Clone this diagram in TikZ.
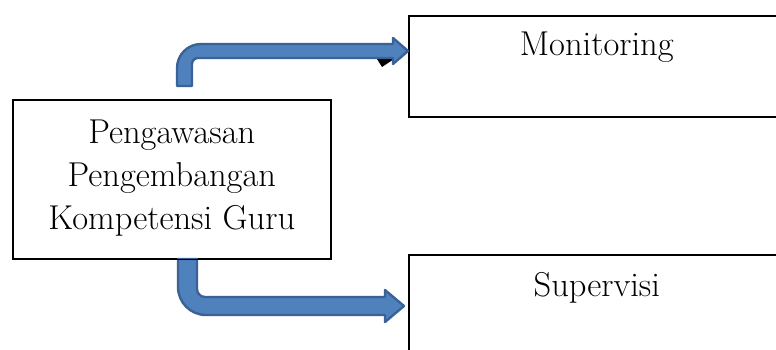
\documentclass[tikz,border=0pt]{standalone}
\usetikzlibrary{calc}
\definecolor{arrfill}{HTML}{4F81BD}
\definecolor{arrline}{HTML}{3A6296}
\tikzset{
  box/.style={draw=black, line width=1.6pt, fill=white, inner sep=0pt},
  lbl/.style={font=\fontsize{34.5}{43}\selectfont, align=center, inner sep=0pt},
  blockarrow/.style={fill=arrfill, draw=arrline, line width=2.4pt, line join=round},
}
\begin{document}
\begin{tikzpicture}[x=1pt,y=-1pt]
\useasboundingbox (0,0) rectangle (776,349);
\clip (0,0) rectangle (776,349);
% boxes
\node[box, anchor=north west, minimum width=380pt, minimum height=101pt] (mon) at (408,15) {};
\node[box, anchor=north west, minimum width=380pt, minimum height=140pt] (sup) at (408,254) {};
\node[box, anchor=north west, minimum width=318pt, minimum height=159pt] (src) at (12,99) {};
% texts
\node[lbl, anchor=base] (montext) at ($(mon.north)+(-2,40)$) {Monitoring};
\node[lbl, anchor=base] (suptext) at ($(sup.north)+(-2,42)$) {Supervisi};
\node[lbl] (srctext) at ($(src.center)+(0,-1)$) {Pengawasan\\Pengembangan\\Kompetensi Guru};
% small black tip
\fill[black] (377,59) -- (394,59) -- (382,67) -- cycle;
% upper block arrow
\draw[blockarrow] (177,86) [rounded corners=24pt] -- (177,44) [rounded corners=0pt] -- (393,44) -- (393,38) -- (408,51) -- (393,64) -- (393,58) [rounded corners=6pt] -- (192,58) [rounded corners=0pt] -- (192,86) -- cycle;
% lower block arrow
\draw[blockarrow] (178,259) [rounded corners=28pt] -- (178,315) [rounded corners=0pt] -- (385,315) -- (385,322) -- (404,306) -- (385,290) -- (385,297) [rounded corners=8pt] -- (197,297) [rounded corners=0pt] -- (197,259) -- cycle;
\draw[line width=1.6pt] (src.south west) -- (src.south east);
\end{tikzpicture}
\end{document}
